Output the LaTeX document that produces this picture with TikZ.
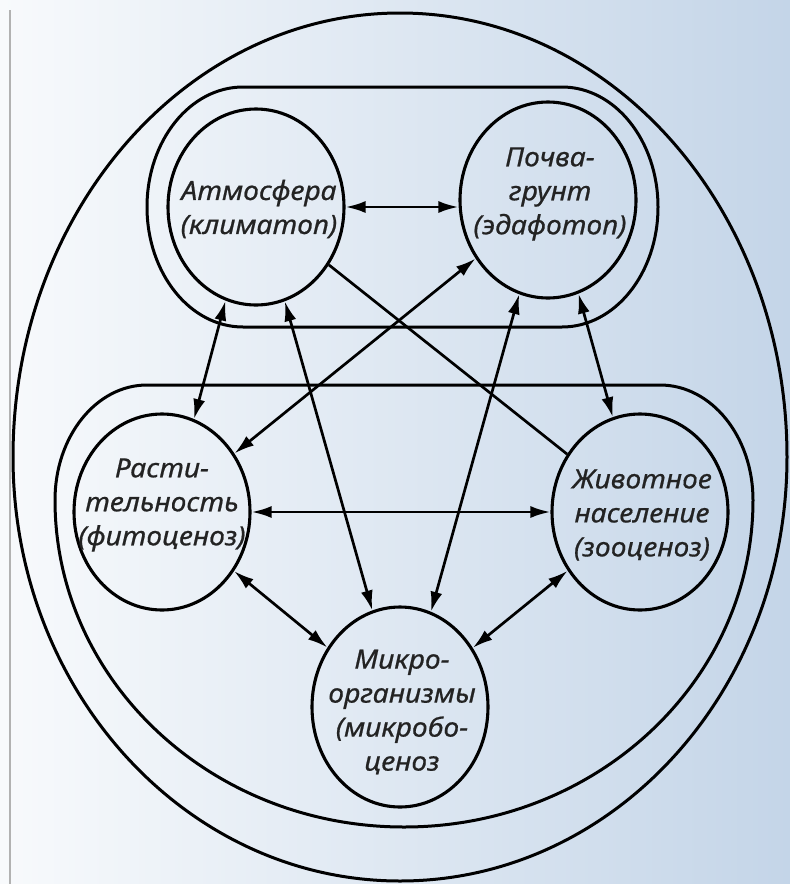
\documentclass[tikz,border=0pt]{standalone}
\usepackage{fontspec}
\setmainfont{Noto Sans}
\newfontfamily\lblfont{Noto Sans}[FakeBold=0.7,FakeStretch=1.07]
\usetikzlibrary{shapes.geometric,arrows.meta}
\definecolor{bgl}{RGB}{248,250,252}
\definecolor{bgr}{RGB}{196,213,232}
\definecolor{txt}{RGB}{35,35,35}
\begin{document}
\begin{tikzpicture}[x=1pt,y=1pt,
  eco/.style={ellipse, draw=black, line width=3.1pt, minimum width=176pt, minimum height=196pt, inner sep=0pt},
  lbl/.style={align=center, inner sep=0pt, text=txt, font=\lblfont\itshape\fontsize{26.5}{34}\selectfont},
  outl/.style={draw=black, line width=3pt},
  tipx/.tip={Latex[length=20pt,width=12pt]},
  link/.style={line width=2.7pt, tipx-tipx},
  plainline/.style={line width=2.7pt}]
\useasboundingbox (0,0) rectangle (790,-884);
\shade[left color=bgl, right color=bgr] (0,0) rectangle (790,-884);
\draw[gray!60, line width=1.5pt] (10,-10) -- (10,-884);
% outer egg
\draw[outl] (13,-457) arc[start angle=180, end angle=0, x radius=387pt, y radius=444pt]
  arc[start angle=0, end angle=-180, x radius=387pt, y radius=424pt] -- cycle;
% upper group
\draw[outl] (243,-87) -- (562,-87) arc[start angle=90, end angle=-90, x radius=96pt, y radius=120pt]
  -- (243,-327) arc[start angle=270, end angle=90, x radius=96pt, y radius=120pt] -- cycle;
% lower group
\draw[outl] (147,-385) -- (660,-385) arc[start angle=90, end angle=0, x radius=93pt, y radius=115pt]
  arc[start angle=0, end angle=-180, x radius=349pt, y radius=327pt]
  arc[start angle=180, end angle=90, x radius=92pt, y radius=115pt] -- cycle;
% circles
\node[eco] (atm) at (256,-207) {};
\node[eco] (pochva) at (548,-200) {};
\node[eco] (rast) at (162,-512) {};
\node[eco] (zhiv) at (640,-512) {};
\node[eco, minimum height=200pt] (mikro) at (400,-707) {};
% texts
\node[lbl] (atmT) at (259,-209) {Атмосфера\\(климатоп)};
\node[lbl] (pochvaT) at (550,-194) {Почва-\\грунт\\(эдафотоп)};
\node[lbl] (rastT) at (162,-505) {Расти-\\тельность\\(фитоценоз)};
\node[lbl] (zhivT) at (642,-515) {Животное\\население\\(зооценоз)};
\node[lbl] (mikroT) at (402,-712) {Микро-\\организмы\\(микробо-\\ценоз};
% connectors
\draw[link] (atm.east) -- (atm.east -| pochva.west);
\draw[link] (atm.252.5) -- (rast.71.6);
\draw[link] (atm.287) -- (mikro.106.4);
\draw[link] (pochva) -- (rast);
\draw[plainline] (atm) -- (zhiv);
\draw[link] (pochva.253) -- (mikro.72.5);
\draw[link] (pochva.288) -- (zhiv.106.6);
\draw[link] (rast) -- (zhiv);
\draw[link] (rast) -- (mikro);
\draw[link] (zhiv) -- (mikro);
\end{tikzpicture}
\end{document}
